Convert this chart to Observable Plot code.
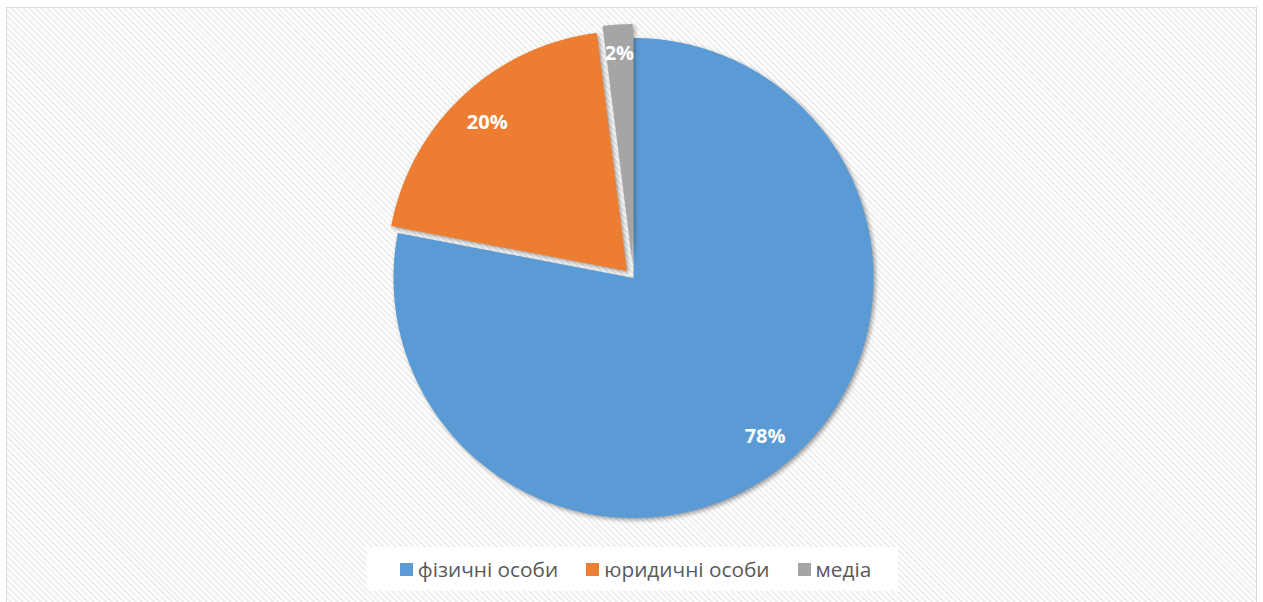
<!DOCTYPE html>
<html>
<head>
<meta charset="utf-8">
<script src="https://cdn.jsdelivr.net/npm/d3@7"></script>
<script src="https://cdn.jsdelivr.net/npm/@observablehq/plot@0.6"></script>
<style>
  html, body { margin: 0; padding: 0; background: #ffffff; }
  #wrap { position: relative; width: 1263px; height: 602px; overflow: hidden; font-family: "Open Sans", sans-serif; }
  #frame { position: absolute; left: 6px; top: 7px; width: 1251px; height: 620px;
    border: 1px solid #d9d9d9; box-sizing: border-box;
    background: repeating-linear-gradient(45deg, #ffffff 0px, #ffffff 2.1px, #efefef 2.1px, #efefef 4.2px); }
  #chart { position: absolute; left: 0; top: 0; }
  #chart path { filter: drop-shadow(2px 2px 2px rgba(0,0,0,0.38)); }
  #legend { position: absolute; left: 367px; top: 547px; width: 531px; height: 44px; background: #ffffff;
    display: flex; align-items: center; justify-content: center; gap: 0; padding-left: 6px; box-sizing: border-box; }
  .item { display: flex; align-items: center; color: #595959; font-size: 20.8px; margin: 0 14px; }
  .sw { width: 13px; height: 13px; margin-right: 5px; }
</style>
</head>
<body>
<div id="wrap">
  <div id="frame"></div>
  <div id="chart"></div>
  <div id="legend"></div>
</div>
<script>
// ---- data ----
const categories = ["фізичні особи", "юридичні особи", "медіа"];
const shares = [78, 20, 2];
const labels = ["78%", "20%", "2%"];
const colors = ["#5B9BD5", "#ED7D31", "#A5A5A5"];

// ---- layout options ----
const W = 1263, H = 602;
const CX = 633, CY = 277.5, R = 240;     // pie centre & radius in pixels
const explode = [0, 0.04, 0.058];         // slice explosion, fraction of radius
const labelRadius = [0.86, 0.85, 0.88];   // label distance, fraction of radius

const arcs = d3.pie().sort(null).startAngle(0).endAngle(2 * Math.PI)(shares);

const polys = [];
const texts = [];
arcs.forEach((a, i) => {
  const mid = (a.startAngle + a.endAngle) / 2;
  const ox = explode[i] * Math.sin(mid), oy = explode[i] * Math.cos(mid);
  polys.push({cat: categories[i], x: ox, y: oy});
  const n = Math.max(4, Math.ceil((a.endAngle - a.startAngle) / (Math.PI / 360)));
  for (let k = 0; k <= n; k++) {
    const t = a.startAngle + (a.endAngle - a.startAngle) * k / n;
    polys.push({cat: categories[i], x: ox + Math.sin(t), y: oy + Math.cos(t)});
  }
  polys.push({cat: categories[i], x: ox, y: oy});
  texts.push({cat: categories[i], label: labels[i],
    x: ox + labelRadius[i] * Math.sin(mid), y: oy + labelRadius[i] * Math.cos(mid)});
});

const plot = Plot.plot({
  width: W, height: H,
  margin: 0,
  style: {background: "transparent", overflow: "visible"},
  x: {domain: [-CX / R, (W - CX) / R], axis: null},
  y: {domain: [-(H - CY) / R, CY / R], axis: null},
  color: {domain: categories, range: colors},
  marks: [
    Plot.line(polys, {x: "x", y: "y", z: "cat", fill: "cat", stroke: "none", curve: "linear"}),
    Plot.text(texts, {x: "x", y: "y", text: "label", fill: "white", fontSize: 20, fontWeight: "bold",
      fontFamily: "Open Sans", textAnchor: "middle", lineAnchor: "middle"})
  ]
});
document.getElementById("chart").appendChild(plot);

const legend = document.getElementById("legend");
categories.forEach((c, i) => {
  const it = document.createElement("div");
  it.className = "item";
  const sw = document.createElement("div");
  sw.className = "sw";
  sw.style.background = colors[i];
  const tx = document.createElement("span");
  tx.textContent = c;
  it.appendChild(sw); it.appendChild(tx);
  legend.appendChild(it);
});
</script>
</body>
</html>
